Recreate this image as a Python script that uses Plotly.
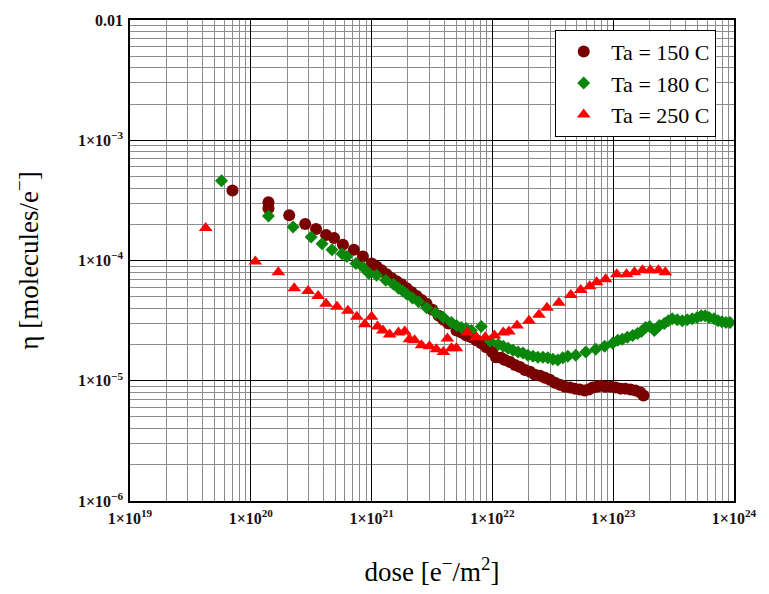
import plotly.graph_objects as go

# ---- data ----
dose_150 = [7.05e19, 1.40e20, 1.40e20, 2.08e20, 2.82e20, 3.47e20, 4.20e20, 4.89e20, 5.79e20, 7.13e20,
            8.47e20, 1.00e21, 1.10e21, 1.21e21, 1.33e21, 1.47e21, 1.61e21, 1.77e21, 1.95e21, 2.14e21,
            2.36e21, 2.59e21, 2.85e21, 3.19e21, 3.58e21, 3.93e21, 4.32e21, 5.04e21, 5.53e21, 6.08e21,
            6.69e21, 7.36e21, 8.09e21, 8.89e21, 9.96e21, 1.07e22, 1.18e22, 1.27e22, 1.40e22, 1.54e22,
            1.69e22, 1.86e22, 2.05e22, 2.25e22, 2.48e22, 2.72e22, 2.99e22, 3.29e22, 3.62e22, 3.98e22,
            4.38e22, 4.81e22, 5.29e22, 5.81e22, 6.27e22, 6.76e22, 7.30e22, 7.87e22, 8.65e22, 9.52e22,
            1.05e23, 1.15e23, 1.26e23, 1.39e23, 1.53e23, 1.68e23, 1.78e23]
eta_150 = [3.82e-4, 3.05e-4, 2.72e-4, 2.38e-4, 2.01e-4, 1.83e-4, 1.63e-4, 1.54e-4, 1.35e-4, 1.23e-4,
           1.08e-4, 9.45e-5, 8.93e-5, 8.28e-5, 7.67e-5, 7.12e-5, 6.73e-5, 6.35e-5, 5.89e-5, 5.47e-5,
           5.07e-5, 4.70e-5, 4.36e-5, 3.89e-5, 3.48e-5, 3.22e-5, 2.99e-5, 2.62e-5, 2.52e-5, 2.38e-5,
           2.30e-5, 2.17e-5, 2.05e-5, 1.90e-5, 1.73e-5, 1.57e-5, 1.55e-5, 1.49e-5, 1.43e-5, 1.35e-5,
           1.30e-5, 1.23e-5, 1.19e-5, 1.12e-5, 1.10e-5, 1.06e-5, 1.02e-5, 9.63e-6, 9.27e-6, 8.93e-6,
           8.77e-6, 8.60e-6, 8.44e-6, 8.28e-6, 8.44e-6, 8.77e-6, 8.93e-6, 9.10e-6, 8.93e-6, 8.93e-6,
           8.77e-6, 8.60e-6, 8.60e-6, 8.44e-6, 8.28e-6, 7.97e-6, 7.53e-6]

dose_180 = [5.72e19, 1.40e20, 2.24e20, 3.16e20, 3.89e20, 4.70e20, 5.69e20, 6.25e20, 7.41e20, 8.47e20,
            9.48e20, 1.10e21, 1.31e21, 1.52e21, 1.67e21, 1.81e21, 1.95e21, 2.18e21, 2.45e21, 2.85e21,
            3.38e21, 3.93e21, 4.58e21, 5.04e21, 5.53e21, 6.08e21, 6.69e21, 8.09e21, 9.59e21, 1.12e22,
            1.23e22, 1.35e22, 1.48e22, 1.63e22, 1.79e22, 1.97e22, 2.17e22, 2.38e22, 2.62e22, 2.88e22,
            3.17e22, 3.48e22, 3.83e22, 4.21e22, 4.90e22, 5.93e22, 7.16e22, 8.49e22, 9.89e22, 1.09e23,
            1.19e23, 1.31e23, 1.45e23, 1.59e23, 1.71e23, 1.85e23, 2.00e23, 2.19e23, 2.41e23, 2.65e23,
            2.86e23, 3.08e23, 3.39e23, 3.73e23, 4.10e23, 4.51e23, 4.95e23, 5.35e23, 5.77e23, 6.22e23,
            6.84e23, 7.38e23, 7.96e23, 8.59e23, 9.27e23]
eta_180 = [4.61e-4, 2.34e-4, 1.90e-4, 1.57e-4, 1.38e-4, 1.23e-4, 1.14e-4, 1.08e-4, 9.45e-5, 8.77e-5,
           7.82e-5, 7.53e-5, 6.86e-5, 6.35e-5, 5.89e-5, 5.57e-5, 5.26e-5, 4.88e-5, 4.53e-5, 4.04e-5,
           3.68e-5, 3.35e-5, 3.05e-5, 2.88e-5, 2.77e-5, 2.72e-5, 2.62e-5, 2.82e-5, 2.13e-5, 2.01e-5,
           1.94e-5, 1.86e-5, 1.79e-5, 1.73e-5, 1.70e-5, 1.63e-5, 1.60e-5, 1.57e-5, 1.57e-5, 1.55e-5,
           1.51e-5, 1.49e-5, 1.55e-5, 1.60e-5, 1.63e-5, 1.73e-5, 1.83e-5, 1.94e-5, 2.05e-5, 2.17e-5,
           2.21e-5, 2.30e-5, 2.38e-5, 2.47e-5, 2.57e-5, 2.77e-5, 2.82e-5, 2.62e-5, 2.88e-5, 2.99e-5,
           3.16e-5, 3.28e-5, 3.22e-5, 3.16e-5, 3.22e-5, 3.28e-5, 3.35e-5, 3.48e-5, 3.48e-5, 3.35e-5,
           3.28e-5, 3.16e-5, 3.10e-5, 3.05e-5, 3.05e-5]

dose_250 = [4.23e19, 1.09e20, 1.69e20, 2.29e20, 2.98e20, 3.61e20, 4.20e20, 5.17e20, 6.37e20, 7.55e20,
            8.79e20, 1.00e21, 1.12e21, 1.24e21, 1.41e21, 1.67e21, 1.88e21, 2.06e21, 2.27e21, 2.59e21,
            3.01e21, 3.44e21, 3.93e21, 4.24e21, 4.58e21, 5.04e21, 6.20e21, 7.36e21, 8.73e21, 1.04e22,
            1.23e22, 1.37e22, 1.60e22, 2.01e22, 2.43e22, 2.83e22, 3.55e22, 4.46e22, 5.38e22, 6.39e22,
            7.30e22, 8.65e22, 1.07e23, 1.29e23, 1.50e23, 1.75e23, 2.03e23, 2.37e23, 2.70e23]
eta_250 = [1.86e-4, 9.82e-5, 7.98e-5, 5.89e-5, 5.57e-5, 5.07e-5, 4.36e-5, 4.12e-5, 3.82e-5, 3.41e-5,
           2.95e-5, 3.41e-5, 2.82e-5, 2.62e-5, 2.43e-5, 2.52e-5, 2.57e-5, 2.21e-5, 2.17e-5, 1.97e-5,
           1.94e-5, 1.83e-5, 1.73e-5, 2.25e-5, 1.86e-5, 1.86e-5, 2.52e-5, 2.30e-5, 2.30e-5, 2.38e-5,
           2.52e-5, 2.57e-5, 2.88e-5, 3.16e-5, 3.54e-5, 4.04e-5, 4.45e-5, 5.16e-5, 5.68e-5, 6.12e-5,
           6.60e-5, 6.98e-5, 7.67e-5, 7.67e-5, 7.98e-5, 8.28e-5, 8.28e-5, 8.28e-5, 7.98e-5]

x_tickvals = [1e19, 1e20, 1e21, 1e22, 1e23, 1e24]
x_ticktext = ["<b>1×10<sup>19</sup></b>", "<b>1×10<sup>20</sup></b>", "<b>1×10<sup>21</sup></b>",
              "<b>1×10<sup>22</sup></b>", "<b>1×10<sup>23</sup></b>", "<b>1×10<sup>24</sup></b>"]
y_tickvals = [1e-6, 1e-5, 1e-4, 1e-3, 1e-2]
y_ticktext = ["<b>1×10<sup>−6</sup></b>", "<b>1×10<sup>−5</sup></b>", "<b>1×10<sup>−4</sup></b>",
              "<b>1×10<sup>−3</sup></b>", "<b>0.01</b>"]

series_names = ["Ta = 150 C", "Ta = 180 C", "Ta = 250 C"]

FONT = "Liberation Serif"

fig = go.Figure()
fig.add_trace(go.Scatter(x=dose_150, y=eta_150, mode="markers", name=series_names[0],
                         marker=dict(symbol="circle", size=12, color="#7a0000")))
fig.add_trace(go.Scatter(x=dose_180, y=eta_180, mode="markers", name=series_names[1],
                         marker=dict(symbol="diamond", size=10, color="#0a870a")))
fig.add_trace(go.Scatter(x=dose_250, y=eta_250, mode="markers", name=series_names[2],
                         marker=dict(symbol="triangle-up", size=12, color="#ff0000")))

axis_common = dict(
    type="log", showline=True, linecolor="black", linewidth=1.5, mirror=True,
    showgrid=True, gridcolor="black", gridwidth=1.4, zeroline=False,
    ticks="", tickmode="array",
    tickfont=dict(family=FONT, size=16, color="#1a1010"),
    minor=dict(showgrid=True, gridcolor="#8c8c8c", gridwidth=1.3, dtick="D1", ticks=""),
)

fig.update_xaxes(**axis_common, range=[19, 24], tickvals=x_tickvals, ticktext=x_ticktext,
                 ticklabelstandoff=2,
                 title=dict(text="dose [e<sup>−</sup>/m<sup>2</sup>]",
                            font=dict(family=FONT, size=27, color="black"), standoff=36))
fig.update_yaxes(**axis_common, range=[-6, -2], tickvals=y_tickvals, ticktext=y_ticktext,
                 ticklabelstandoff=2,
                 title=dict(text="η [molecules/e<sup>−</sup>]",
                            font=dict(family=FONT, size=27, color="black"), standoff=32))

fig.update_layout(
    width=769, height=594,
    margin=dict(l=130, r=33, t=15, b=91),
    paper_bgcolor="white", plot_bgcolor="white",
    font=dict(family=FONT, color="black"),
    legend=dict(x=0.704, y=0.98, xanchor="left", yanchor="top",
                bgcolor="white", bordercolor="black", borderwidth=1,
                font=dict(family=FONT, size=22, color="black"),
                itemwidth=45, tracegroupgap=0),
    showlegend=True,
)

fig.write_html("out.html")
